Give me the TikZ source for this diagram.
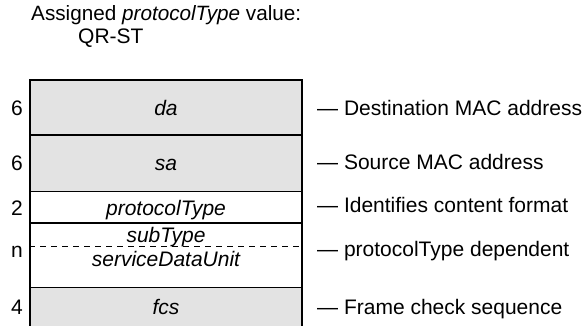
\documentclass[tikz,border=0pt]{standalone}
\usepackage{fontspec}
\setmainfont{Liberation Sans}
\begin{document}
\begin{tikzpicture}[x=1pt,y=-1pt,
  every node/.style={inner sep=0pt, font=\fontsize{21}{25}\selectfont},
  rowbox/.style={draw=black, line width=1.6pt, rectangle, minimum width=272pt},
  shaded/.style={fill=black!11},
  fieldtext/.style={anchor=base, font=\fontsize{21}{25}\selectfont\itshape},
  sizetext/.style={anchor=base},
  notetext/.style={anchor=base west},
  splitline/.style={line width=1.5pt, dash pattern=on 6pt off 5pt}]
\useasboundingbox (0,0) rectangle (587,326);
\clip (0,0) rectangle (587,326);
% title
\node[anchor=base west, font=\fontsize{20.7}{25}\selectfont] (title) at (31,21) {Assigned \textit{protocolType} value:};
\node[anchor=base west] (qrst) at (78,44) {QR-ST};
% rows
\node[rowbox, shaded, minimum height=55pt] (rda) at (166,107.5) {};
\node[rowbox, shaded, minimum height=56.5pt] (rsa) at (166,163.25) {};
\node[rowbox, minimum height=31.5pt] (rpt) at (166,207.25) {};
\node[rowbox, minimum height=64.5pt] (rn) at (166,255.25) {};
\node[rowbox, shaded, minimum height=45pt] (rfcs) at (166,310) {};
\draw[splitline] (rn.west |- 0,246.7) coordinate (dl) -- (rn.east |- 0,246.7) coordinate (dr);
% field names
\node[fieldtext] (tda) at (166,116) {da};
\node[fieldtext] (tsa) at (166,171) {sa};
\node[fieldtext] (tpt) at (166,215) {protocolType};
\node[fieldtext] (tst) at (166,243) {subType};
\node[fieldtext] (tsdu) at (166,266) {serviceDataUnit};
\node[fieldtext] (tfcs) at (166,314) {fcs};
% sizes
\node[sizetext] (s1) at (17,116) {6};
\node[sizetext] (s2) at (17,171) {6};
\node[sizetext] (s3) at (17,215) {2};
\node[sizetext] (s4) at (17,258) {n};
\node[sizetext] (s5) at (17,314) {4};
% notes
\node[notetext] (n1) at (317,116) {— Destination MAC address};
\node[notetext] (n2) at (317,170) {— Source MAC address};
\node[notetext] (n3) at (317,213) {— Identifies content format};
\node[notetext] (n4) at (317,257) {— protocolType dependent};
\node[notetext] (n5) at (317,314) {— Frame check sequence};
\end{tikzpicture}
\end{document}
